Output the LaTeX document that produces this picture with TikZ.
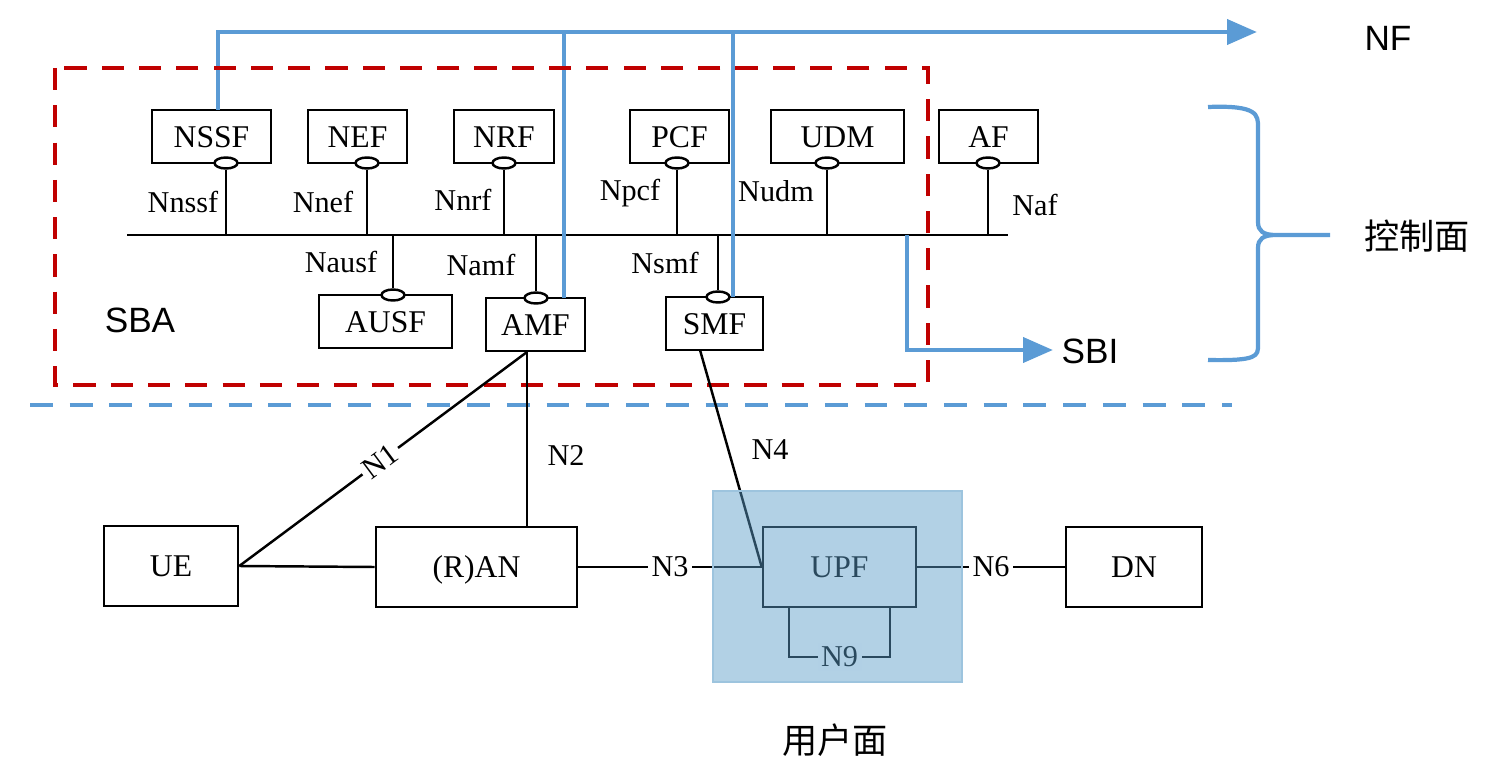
\documentclass[tikz,border=0pt]{standalone}
\usepackage{fontspec}
\setmainfont{Liberation Serif}
\setsansfont{Liberation Sans}
\newfontfamily\cjk{Noto Sans CJK SC}
\usetikzlibrary{shapes, arrows.meta}

\definecolor{sbiblue}{RGB}{91,155,213}
\definecolor{sbared}{RGB}{192,0,0}
\definecolor{upshade}{RGB}{91,157,200}

\begin{document}
\begin{tikzpicture}[x=0.01cm, y=-0.01cm, line width=0.7pt,
    nf/.style={draw, fill=white, minimum height=0.53cm, inner sep=0pt, text height=6pt, text depth=0pt, font=\fontsize{9}{10}\selectfont},
    bigbox/.style={nf, minimum height=0.8cm},
    port/.style={ellipse, draw, fill=white, minimum width=0.23cm, minimum height=0.11cm, inner sep=0pt},
    lbl/.style={font=\fontsize{8.6}{10}\selectfont, inner sep=1pt},
    sans/.style={font=\sffamily\fontsize{10}{12}\selectfont},
    sbiline/.style={sbiblue, line width=1.4pt},
    sbi/.style={sbiline, -{Triangle[length=8.5pt,width=7pt]}}]
\useasboundingbox (0,0) rectangle (1500,767);

% control plane
\node[nf, minimum width=1.19cm] (nssf) at (211.5,136.5) {NSSF};
\node[nf, minimum width=0.99cm] (nef) at (357.5,136.5) {NEF};
\node[nf, minimum width=1.00cm] (nrf) at (504,136.5) {NRF};
\node[nf, minimum width=0.99cm] (pcf) at (679.5,136.5) {PCF};
\node[nf, minimum width=1.33cm] (udm) at (837.5,136.5) {UDM};
\node[nf, minimum width=0.99cm] (af) at (988.5,136.5) {AF};
\node[nf, minimum width=1.33cm] (ausf) at (385.5,321.5) {AUSF};
\node[nf, minimum width=0.99cm] (amf) at (535.5,324.5) {AMF};
\node[nf, minimum width=0.97cm] (smf) at (714.5,323.5) {SMF};

\coordinate (busL) at (127,235);
\coordinate (busR) at (1008,235);
\draw (busL) -- (busR);

\foreach \n/\x/\y in {nssf/226/163, nef/367/163, nrf/504/163, pcf/677/163, udm/827/163, af/988/163,
                      ausf/393/295, amf/536/298, smf/718/297} {
    \node[port] (p\n) at (\x,\y) {};
    \draw (p\n) -- (p\n |- busL);
}

\node[lbl] (lnssf) at (183,202) {Nnssf};
\node[lbl] (lnef) at (323,202) {Nnef};
\node[lbl] (lnrf) at (463,200) {Nnrf};
\node[lbl] (lpcf) at (630,193) {Npcf};
\node[lbl] (ludm) at (776,191) {Nudm};
\node[lbl] (laf) at (1035,205) {Naf};
\node[lbl] (lausf) at (341,262) {Nausf};
\node[lbl] (lamf) at (481,265) {Namf};
\node[lbl] (lsmf) at (665,263) {Nsmf};

% service bus arrows
\coordinate (nssfN) at (218,110);
\coordinate (amfN) at (564,298);
\coordinate (smfN) at (733,297);
\coordinate (nfT) at (1257,32);
\coordinate (sbiS) at (907,235);
\coordinate (sbiT) at (1053,350);
\draw[sbi] (nssfN) |- (nfT);
\draw[sbiline] (amfN) -- (amfN |- nfT);
\draw[sbiline] (smfN) -- (smfN |- nfT);
\draw[sbi] (sbiS) |- (sbiT);

\draw[sbared, line width=1.4pt, dash pattern=on 6.3pt off 4.3pt] (55,68) rectangle (928,385);
\draw[sbiblue, line width=1.1pt, dash pattern=on 6.5pt off 4.8pt] (30,405) -- (1232,405);

\draw[sbiblue, line width=1.2pt] (1208,107) .. controls (1258,105) and (1258,115) .. (1258,127) -- (1258,222)
    .. controls (1258,231) and (1263,235) .. (1276,235) -- (1330,235)
    (1276,235) .. controls (1263,235) and (1258,239) .. (1258,248) -- (1258,345)
    .. controls (1258,356) and (1258,361) .. (1208,360);

\node[sans] (nftxt) at (1388,38) {NF};
\node[sans] (sbitxt) at (1090,351) {SBI};
\node[sans] (sbatxt) at (140,320) {SBA};
\node[sans] (cptxt) at (1417,236) {\cjk 控制面};
\node[sans] (uptxt) at (835,740) {\cjk 用户面};

% user plane
\node[bigbox, minimum width=1.34cm] (ue) at (171,566) {UE};
\node[bigbox, minimum width=2.01cm] (ran) at (476.5,567) {(R)AN};
\node[bigbox, minimum width=1.53cm] (upf) at (839.5,567) {UPF};
\node[bigbox, minimum width=1.36cm] (dn) at (1134,567) {DN};

\coordinate (amfS) at (527,352);
\coordinate (smfS) at (700,350);
\coordinate (n9a) at (789,607);
\coordinate (n9b) at (890,607);

\draw (ue.east) -- (ran.west);
\draw (ue.east) -- node[lbl, sloped, fill=white, pos=0.49] (n1lbl) {N1} (amfS);
\draw (amfS) -- (amfS |- ran.north);
\node[lbl] (n2lbl) at (566,455) {N2};
\draw (ran.east) -- node[lbl, fill=white] (n3lbl) {N3} (upf.west);
\draw (smfS) -- (upf.west);
\node[lbl] (n4lbl) at (770,450) {N4};
\draw (upf.east) -- node[lbl, fill=white] (n6lbl) {N6} (dn.west);
\draw (n9a) -- ++(0,50) -| node[lbl, fill=white, pos=0.25] (n9lbl) {N9} (n9b);

\node[fill=upshade, fill opacity=0.47, draw=upshade!60, line width=0.5pt, minimum width=2.49cm, minimum height=1.91cm, inner sep=0pt] (uplane) at (837.5,586.5) {};
\end{tikzpicture}
\end{document}
